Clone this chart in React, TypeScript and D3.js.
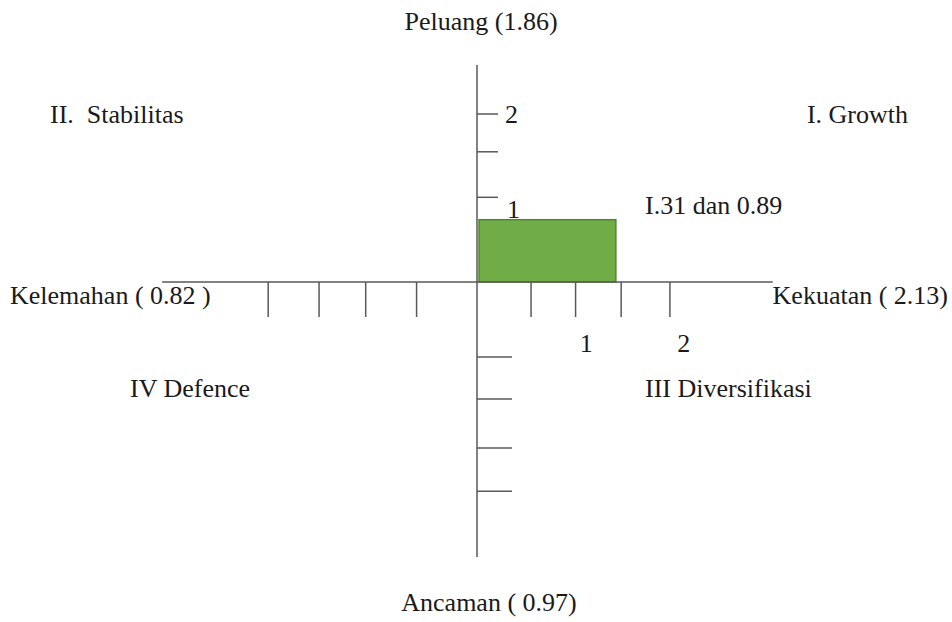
import React from "react";
import * as d3 from "d3";

const W = 952;
const H = 622;

// Data (units of the diagram)
const strengthScore = 1.31;
const opportunityScore = 0.89;
const rectLabel = "I.31 dan 0.89";
const rightTicks = [0.51, 0.93, 1.36, 1.82];
const leftTicks = [-1.97, -1.49, -1.05, -0.57];
const upTicks = [1.21, 1.86, 2.4];
const downTicks = [-1.07, -1.67, -2.37, -2.99];
const xTickLabels = [{ v: 1.03, t: "1" }, { v: 1.95, t: "2" }];
const yTickLabels = [{ v: 2.4, t: "2" }, { v: 1.05, t: "1" }];
const axisTitles = {
  top: "Peluang (1.86)",
  bottom: "Ancaman ( 0.97)",
  left: "Kelemahan ( 0.82 )",
  right: "Kekuatan ( 2.13)",
};
const quadrants = ["I. Growth", "II.\u00a0\u00a0Stabilitas", "III Diversifikasi", "IV Defence"];

const textStyle: React.CSSProperties = {
  fontFamily: '"Liberation Serif"',
  fontSize: 26,
  fill: "#1a1a1a",
};

function T(props: any) {
  const { children, ...rest } = props;
  return (
    <text {...rest} style={textStyle}>
      {children}
    </text>
  );
}

export default function App() {
  const x = d3.scaleLinear().domain([0, 1]).range([477, 583]);
  const y = d3.scaleLinear().domain([0, 1]).range([282, 212]);
  const axisColor = "#595959";
  return (
    <svg width={W} height={H} style={{ position: "absolute", left: 0, top: 0, background: "#fff" }}>
      {/* rectangle */}
      <rect
        x={x(0) + 2}
        y={y(opportunityScore)}
        width={x(strengthScore) - x(0) - 2}
        height={y(0) - y(opportunityScore)}
        fill="#70AD47"
        stroke="#548235"
        strokeWidth={1.5}
      />
      {/* axes */}
      <line x1={x(-2.97)} x2={x(2.79)} y1={y(0)} y2={y(0)} stroke={axisColor} strokeWidth={1.5} />
      <line x1={x(0)} x2={x(0)} y1={y(3.1)} y2={y(-3.93)} stroke={axisColor} strokeWidth={1.5} />
      {/* x ticks */}
      {[...leftTicks, ...rightTicks].map((v, i) => (
        <line key={"xt" + i} x1={x(v)} x2={x(v)} y1={y(0)} y2={y(0) + 35} stroke={axisColor} strokeWidth={1.5} />
      ))}
      {/* y ticks */}
      {upTicks.map((v, i) => (
        <line key={"yu" + i} x1={x(0)} x2={x(0) + 21} y1={y(v)} y2={y(v)} stroke={axisColor} strokeWidth={1.5} />
      ))}
      {downTicks.map((v, i) => (
        <line key={"yd" + i} x1={x(0)} x2={x(0) + 35} y1={y(v)} y2={y(v)} stroke={axisColor} strokeWidth={1.5} />
      ))}
      {/* tick labels */}
      {xTickLabels.map((d, i) => (
        <T key={"xl" + i} x={x(d.v)} y={352} textAnchor="middle">{d.t}</T>
      ))}
      {yTickLabels.map((d, i) => (
        <T key={"yl" + i} x={x(0) + (i === 0 ? 28 : 30)} y={y(d.v) + 9}>{d.t}</T>
      ))}
      {/* rectangle label */}
      <T x={645} y={214}>{rectLabel}</T>
      {/* axis titles */}
      <T x={481} y={30} textAnchor="middle">{axisTitles.top}</T>
      <T x={489} y={611} textAnchor="middle">{axisTitles.bottom}</T>
      <T x={10} y={304}>{axisTitles.left}</T>
      <T x={948} y={304} textAnchor="end">{axisTitles.right}</T>
      {/* quadrants */}
      <T x={908} y={123} textAnchor="end">{quadrants[0]}</T>
      <T x={50} y={123}>{quadrants[1]}</T>
      <T x={645} y={397}>{quadrants[2]}</T>
      <T x={130} y={397}>{quadrants[3]}</T>
    </svg>
  );
}
